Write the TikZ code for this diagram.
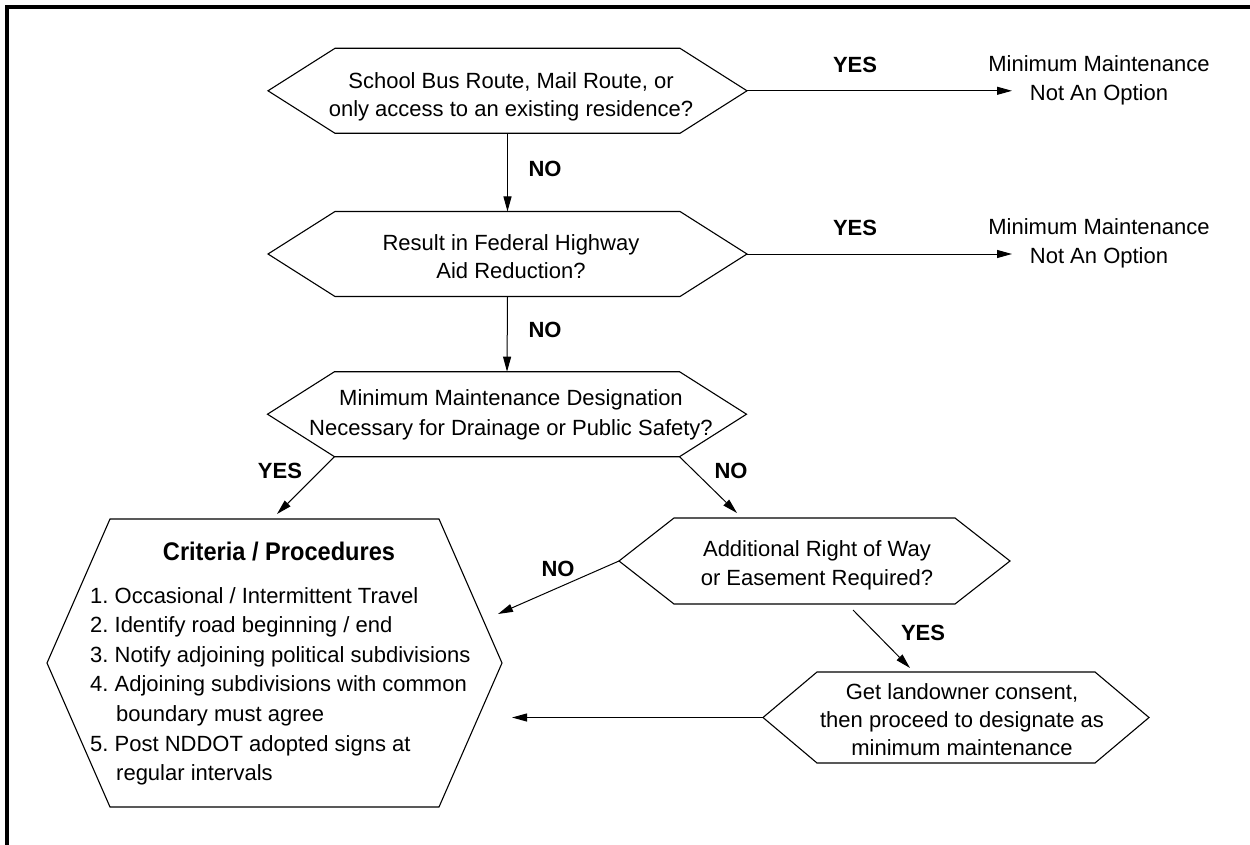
\documentclass[tikz,border=0pt]{standalone}
\usepackage{fontspec}
\setmainfont{Liberation Sans}
\usepackage{graphicx}
\usetikzlibrary{arrows.meta}
\newcommand\hexbox[6]{%
  \coordinate (#1-l) at ({#2-#4},{#3});
  \coordinate (#1-r) at ({#2+#4},{#3});
  \coordinate (#1-tl) at ({#2-#4+#6},{#3-#5});
  \coordinate (#1-tr) at ({#2+#4-#6},{#3-#5});
  \coordinate (#1-bl) at ({#2-#4+#6},{#3+#5});
  \coordinate (#1-br) at ({#2+#4-#6},{#3+#5});
  \coordinate (#1-t) at ({#2},{#3-#5});
  \coordinate (#1-b) at ({#2},{#3+#5});
  \draw[hexline] (#1-l) -- (#1-tl) -- (#1-tr) -- (#1-r) -- (#1-br) -- (#1-bl) -- cycle;
}
\newcommand\linesc[1]{\begin{tabular}[t]{@{}c@{}}#1\end{tabular}}
\begin{document}
\begin{tikzpicture}[x=1pt,y=-1pt,
  hexline/.style={line width=1.1pt, line join=miter},
  arr/.style={line width=1pt, -{Triangle[length=15pt,width=8pt]}},
  txt/.style={inner sep=0pt, anchor=base, font=\fontsize{22}{28}\selectfont\frenchspacing},
  lbl/.style={inner sep=0pt, anchor=base, font=\fontsize{22}{28}\selectfont\bfseries}]
\useasboundingbox (0,0) rectangle (1250,845);
% frame
\draw[line width=4pt] (7,845) -- (7,7) -- (1250,7);

% hexagons
\hexbox{h1}{507.5}{90.8}{239.5}{42.5}{67}
\hexbox{h2}{507.5}{254}{239.5}{42.5}{67}
\hexbox{h3}{507}{414.2}{239.5}{42.5}{67}
\hexbox{h4}{814.5}{561}{195.5}{43}{55}
\hexbox{h5}{956}{717.5}{193}{45.5}{54}
\hexbox{cr}{274.5}{663}{227.5}{144}{63}

% texts
\node[txt] (q1) at (511,88.8) {\linesc{School Bus Route, Mail Route, or\\only access to an existing residence?}};
\node[txt] (q2) at (511,251) {\linesc{Result in Federal Highway\\Aid Reduction?}};
\node[txt, font=\fontsize{22}{30}\selectfont] (q3) at (511,405) {\linesc{Minimum Maintenance Designation\\Necessary for Drainage or Public Safety?}};
\node[txt, font=\fontsize{22}{29}\selectfont] (q4) at (817,556.5) {\linesc{Additional Right of Way\\or Easement Required?}};
\node[txt] (q5) at (962,699) {\linesc{Get landowner consent,\\then proceed to designate as\\minimum maintenance}};
\node[txt, font=\fontsize{22}{28.5}\selectfont] (mm1) at (1099,71.7) {\linesc{Minimum Maintenance\\Not An Option}};
\node[txt, font=\fontsize{22}{28.5}\selectfont] (mm2) at (1099,234.7) {\linesc{Minimum Maintenance\\Not An Option}};

\node[inner sep=0pt, anchor=base] (crh) at (279,560) {\fontsize{25.5}{30}\selectfont\bfseries\scalebox{0.925}[1]{Criteria / Procedures}};
\node[inner sep=0pt, anchor=base west, font=\fontsize{22}{29.6}\selectfont\frenchspacing] (cri) at (90,603) {\begin{tabular}[t]{@{}l@{}}
1. Occasional / Intermittent Travel\\
2. Identify road beginning / end\\
3. Notify adjoining political subdivisions\\
4. Adjoining subdivisions with common\\
\hspace*{26pt}boundary must agree\\
5. Post NDDOT adopted signs at\\
\hspace*{26pt}regular intervals
\end{tabular}};

% connector end points
\coordinate (e1) at (1012,90.8);
\coordinate (e2) at (1012,254);
\coordinate (e3) at (277,514);
\coordinate (e4) at (737,513);
\coordinate (e5) at (498,614);
\coordinate (s6) at (853,610);
\coordinate (e6) at (910,668);
\coordinate (e7) at (512,717.5);

% connectors
\draw[arr] (h1-r) -- (e1);
\draw[arr] (h1-b) -- (h2-t);
\draw[arr] (h2-r) -- (e2);
\draw[arr] (h2-b) -- (h3-t);
\draw[arr] (h3-bl) -- (e3);
\draw[arr] (h3-br) -- (e4);
\draw[arr] (h4-l) -- (e5);
\draw[arr] (s6) -- (e6);
\draw[arr] (h5-l) -- (e7);

% labels
\node[lbl] (y1) at (855,72.5) {YES};
\node[lbl] (y2) at (855,235.5) {YES};
\node[lbl] (n1) at (545,177) {NO};
\node[lbl] (n2) at (545,337) {NO};
\node[lbl] (y3) at (280,478) {YES};
\node[lbl] (n3) at (731,478) {NO};
\node[lbl] (n4) at (558,576) {NO};
\node[lbl] (y4) at (923,640) {YES};
\end{tikzpicture}
\end{document}
